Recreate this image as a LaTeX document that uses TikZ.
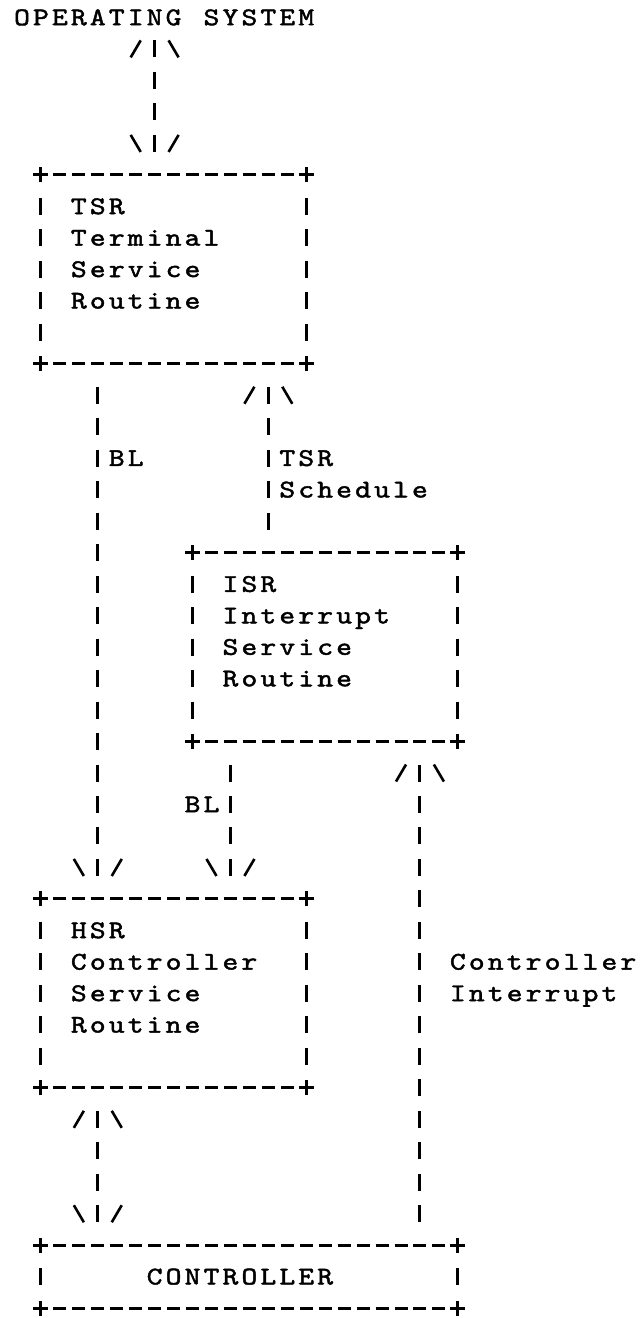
\documentclass[tikz,border=0pt]{standalone}
\usepackage{graphicx}
\usepackage{fontspec}
\newfontfamily\typewriter{lmmono10-regular.otf}[FakeBold=1.6]
\usetikzlibrary{decorations.markings}

% fixed-pitch character cells, as on a typewriter
\newlength\cellw
\setlength\cellw{18.95pt}
\newcommand\typecells[1]{\typecellsaux#1\relax}
\def\typecellsaux#1{\ifx\relax#1\else\makebox[\cellw][c]{\scalebox{1.18}[1]{#1}}\expandafter\typecellsaux\fi}

% the two slashes of an ASCII arrow head, drawn in a marking's frame
\newcommand\barbs[1]{%
  \draw[solid, line width=2.6pt, shorten <=0pt, shorten >=0pt, xscale=#1]
    (-8.5pt, 23.95pt) -- (8.5pt, 13.95pt)
    (-8.5pt,-23.95pt) -- (8.5pt,-13.95pt);}

% a '+' corner
\newcommand\plusmark[1]{%
  \draw[solid, line width=3pt] ([xshift=-7.5pt]#1) -- ([xshift=7.5pt]#1)
                               ([yshift=-7.5pt]#1) -- ([yshift=7.5pt]#1);}

% frame of '+', '-' and '|' around a box node
\newcommand\asciiframe[1]{%
  \draw[hbar] (#1.north west) -- (#1.north east);
  \draw[hbar] (#1.south west) -- (#1.south east);
  \draw[vbar] (#1.north west) -- (#1.south west);
  \draw[vbar] (#1.north east) -- (#1.south east);
  \foreach \a in {north west,north east,south west,south east}{\plusmark{#1.\a}}}

% a line of text starting in column #2 of row #3
\newcommand\cells[4]{\node[txt] (#1) at ({#2-0.5},{#3+0.245}) {\typecells{#4}};}

\tikzset{
  txt/.style={inner sep=0pt, outer sep=0pt, anchor=base west,
    font=\fontsize{25.5}{31.48}\selectfont\typewriter},
  frame/.style={inner sep=0pt, outer sep=0pt, minimum width=265.3pt, minimum height=188.88pt},
  vbar/.style={line width=3pt, dash pattern=on 17pt off 14.48pt,
    shorten <=22.98pt, shorten >=22.98pt},
  hbar/.style={line width=3pt, dash pattern=on 13pt off 5.95pt,
    shorten <=12.45pt, shorten >=12.45pt},
  tipend/.style={postaction={decorate, decoration={markings,
    mark=at position -31.48pt with {\barbs{1}}}}},
  tipstart/.style={postaction={decorate, decoration={markings,
    mark=at position 31.48pt with {\barbs{-1}}}}},
}

\begin{document}
\begin{tikzpicture}[x=18.95pt, y=-31.48pt]
\fill[white] (-22pt,17.5pt) rectangle (619pt,-1300.5pt);
\path[use as bounding box] (-22pt,17.5pt) rectangle (619pt,-1300.5pt);

% columns used by the connectors
\foreach \c in {4,7,11,13,21}{\coordinate (c\c) at (\c,0);}

% operating system
\cells{os}{0}{0}{OPERATING~SYSTEM}

% boxes
\node[frame] (tsr) at (8,8) {};
\node[frame] (isr) at (16,20) {};
\node[frame] (hsr) at (8,31) {};
\node[frame, minimum width=416.9pt, minimum height=62.96pt] (ctl) at (12,40) {};
\foreach \b in {tsr,isr,hsr,ctl}{\asciiframe{\b}}

\cells{tsr1}{3}{6}{TSR}
\cells{tsr2}{3}{7}{Terminal}
\cells{tsr3}{3}{8}{Service}
\cells{tsr4}{3}{9}{Routine}

\cells{isr1}{11}{18}{ISR}
\cells{isr2}{11}{19}{Interrupt}
\cells{isr3}{11}{20}{Service}
\cells{isr4}{11}{21}{Routine}

\cells{hsr1}{3}{29}{HSR}
\cells{hsr2}{3}{30}{Controller}
\cells{hsr3}{3}{31}{Service}
\cells{hsr4}{3}{32}{Routine}

\cells{ctl1}{7}{40}{CONTROLLER}

% connectors
\draw[vbar, tipstart, tipend] (c7 |- os) -- (c7 |- tsr.north);
\draw[vbar, tipend] (c4 |- tsr.south) -- (c4 |- hsr.north);
\draw[vbar, tipend] (c13 |- isr.north) -- (c13 |- tsr.south);
\draw[vbar, tipend] (c11 |- isr.south) -- (c11 |- hsr.north);
\draw[vbar, tipend] (c21 |- ctl.north) -- (c21 |- isr.south);
\draw[vbar, tipstart, tipend] (c4 |- hsr.south) -- (c4 |- ctl.north);

% connector labels
\cells{bl1}{5}{14}{BL}
\cells{sch1}{14}{14}{TSR}
\cells{sch2}{14}{15}{Schedule}
\cells{bl2}{9}{25}{BL}
\cells{ci1}{23}{30}{Controller}
\cells{ci2}{23}{31}{Interrupt}
\end{tikzpicture}
\end{document}
